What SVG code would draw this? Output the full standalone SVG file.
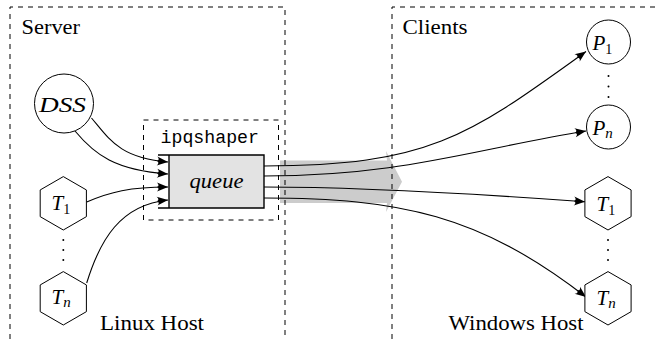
<svg xmlns="http://www.w3.org/2000/svg" width="660" height="339" viewBox="0 0 660 339">
<style>
.dash{fill:none;stroke:#000;stroke-width:1;stroke-dasharray:5,5}
.node{fill:#fff;stroke:#000;stroke-width:1}
.conn{fill:none;stroke:#000;stroke-width:1.1}
.lbl{font-family:'Liberation Serif','Times New Roman',Times,'DejaVu Serif',serif;font-size:20px;fill:#000}
.it{font-family:'Liberation Serif','Times New Roman',Times,'DejaVu Serif',serif;font-style:italic;font-size:21px;fill:#000}
.sub{font-style:normal;font-size:14px}
.subi{font-style:italic;font-size:15px}
.mono{font-family:'Liberation Mono','Courier New',monospace;font-size:18px;fill:#000}
.dot{fill:#000}
</style>
<defs>
<marker id="ah" markerUnits="userSpaceOnUse" markerWidth="12" markerHeight="9" refX="11" refY="4.5" orient="auto" overflow="visible">
<path d="M0,0 Q3,3 0,4.5 Q3,6 0,9 L11,4.5 Z" fill="#000"/>
</marker>
</defs>
<g id="flow-arrow">
<polygon points="280,160.5 387,160.5 386,151 402,181.7 386,212 387,203 280,203" fill="#cccccc"/>
</g>
<g id="server">
<path class="dash" d="M10,339 V7 H285 V339"/>
<text class="lbl" x="21.5" y="33.5" textLength="58.5" lengthAdjust="spacingAndGlyphs">Server</text>
<text class="lbl" x="100" y="330" textLength="104" lengthAdjust="spacingAndGlyphs">Linux Host</text>
</g>
<g id="clients">
<path class="dash" d="M392,339 V7 H662"/>
<text class="lbl" x="402.5" y="33.5" textLength="65" lengthAdjust="spacingAndGlyphs">Clients</text>
<text class="lbl" x="448.5" y="330" textLength="135" lengthAdjust="spacingAndGlyphs">Windows Host</text>
</g>
<g id="ipqshaper">
<rect class="dash" x="143.5" y="120" width="135" height="100"/>
<text class="mono" x="160.5" y="142.5" textLength="98.5" lengthAdjust="spacingAndGlyphs">ipqshaper</text>
</g>
<g id="queue">
<rect x="169" y="155" width="95" height="53" fill="#e3e3e3"/>
<path d="M158,155 H264 V208 H158 M169,155 V208" fill="none" stroke="#000" stroke-width="1.4"/>
<text class="it" x="189.5" y="188" textLength="54" lengthAdjust="spacingAndGlyphs">queue</text>
</g>
<g id="connectors">
<path class="conn" marker-end="url(#ah)" d="M91.5,118 C110,140 120,158 168,162"/>
<path class="conn" marker-end="url(#ah)" d="M75,131 C95,155 115,170 168,174"/>
<path class="conn" marker-end="url(#ah)" d="M86.7,202 C110,192 130,187 168,187"/>
<path class="conn" marker-end="url(#ah)" d="M86.7,283 C100,240 120,205 168,200"/>
<path class="conn" marker-end="url(#ah)" d="M264,166 C430,166 470,135 586,51.5"/>
<path class="conn" marker-end="url(#ah)" d="M264,176 C400,176 470,150 586,131"/>
<path class="conn" marker-end="url(#ah)" d="M264,187 C340,187 450,192 585,201.7"/>
<path class="conn" marker-end="url(#ah)" d="M264,198 C400,198 480,215 586,297"/>
</g>
<g id="DSS">
<circle class="node" cx="64" cy="103.5" r="29.5"/>
<text class="it" x="39" y="111.5" textLength="47" lengthAdjust="spacingAndGlyphs">DSS</text>
</g>
<g id="T1-left">
<polygon class="node" points="63.3,176.6 86.4,189.95 86.4,216.65 63.3,230 40.2,216.65 40.2,189.95"/>
<text class="it" x="51.5" y="210">T<tspan class="sub" dy="4">1</tspan></text>
</g>
<g id="dots-left">
<circle class="dot" cx="63.3" cy="240" r="1"/>
<circle class="dot" cx="63.3" cy="250" r="1"/>
<circle class="dot" cx="63.3" cy="260" r="1"/>
</g>
<g id="Tn-left">
<polygon class="node" points="63.3,271.6 86.4,284.95 86.4,311.65 63.3,325 40.2,311.65 40.2,284.95"/>
<text class="it" x="51.5" y="304">T<tspan class="subi" dy="3">n</tspan></text>
</g>
<g id="P1">
<circle class="node" cx="608.5" cy="42" r="22"/>
<text class="it" x="592.5" y="50">P<tspan class="sub" dy="3.5">1</tspan></text>
</g>
<g id="dots-P">
<circle class="dot" cx="608.5" cy="76" r="1"/>
<circle class="dot" cx="608.5" cy="86.5" r="1"/>
<circle class="dot" cx="608.5" cy="97" r="1"/>
</g>
<g id="Pn">
<circle class="node" cx="608.5" cy="127" r="22"/>
<text class="it" x="592.5" y="135">P<tspan class="subi" dy="2.5">n</tspan></text>
</g>
<g id="T1-right">
<polygon class="node" points="608,176.6 631.1,189.95 631.1,216.65 608,230 584.9,216.65 584.9,189.95"/>
<text class="it" x="596.5" y="210.5">T<tspan class="sub" dy="4">1</tspan></text>
</g>
<g id="dots-right">
<circle class="dot" cx="608" cy="240" r="1"/>
<circle class="dot" cx="608" cy="250" r="1"/>
<circle class="dot" cx="608" cy="260" r="1"/>
</g>
<g id="Tn-right">
<polygon class="node" points="608,271.6 631.1,284.95 631.1,311.65 608,325 584.9,311.65 584.9,284.95"/>
<text class="it" x="596.5" y="305">T<tspan class="subi" dy="3">n</tspan></text>
</g>
</svg>
